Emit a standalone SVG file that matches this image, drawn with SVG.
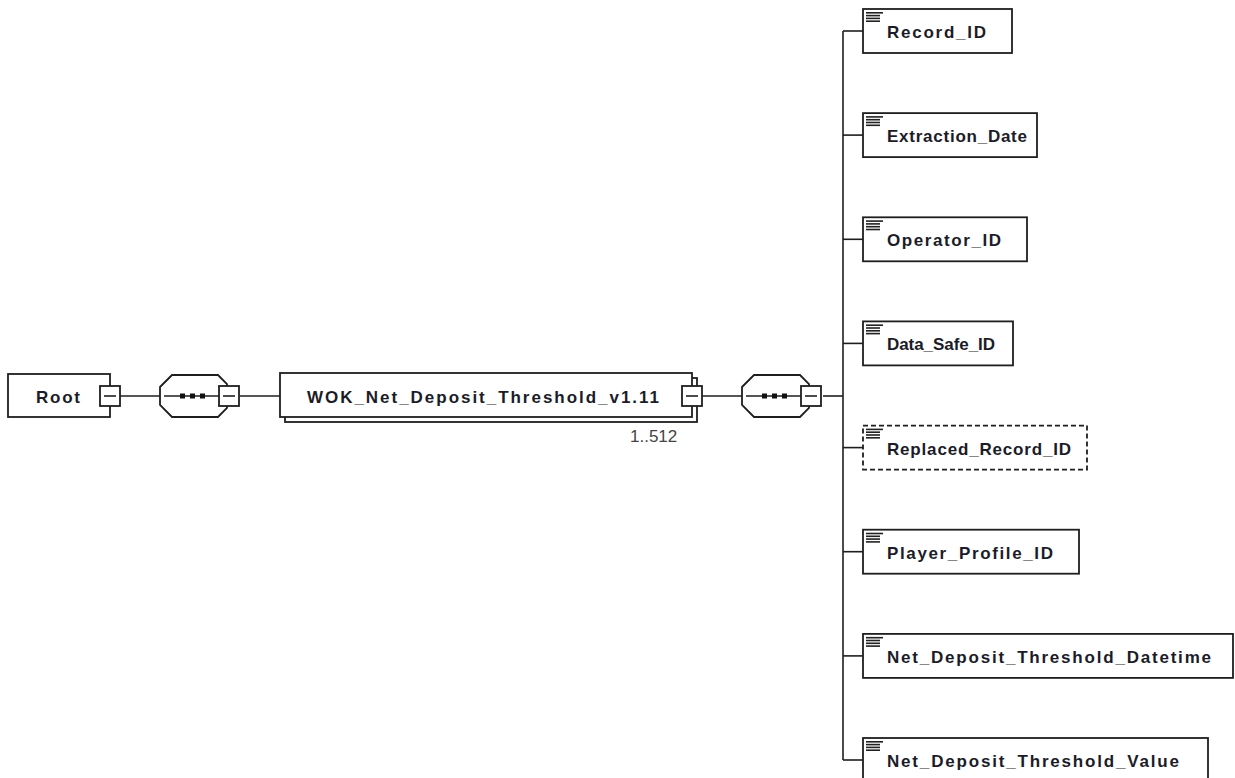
<svg xmlns="http://www.w3.org/2000/svg" width="1235" height="778" viewBox="0 0 1235 778">
  <style>
    .box { fill: #ffffff; stroke: #1e1e1e; stroke-width: 1.8; }
    .opt { fill: #ffffff; stroke: #1e1e1e; stroke-width: 1.8; stroke-dasharray: 5 3; }
    .line { fill: none; stroke: #1e1e1e; stroke-width: 1.6; }
    .lbl { font-family: "Liberation Sans", Arial, sans-serif; font-weight: bold; font-size: 17px; fill: #1c1c28; }
    .occ { font-family: "Liberation Sans", Arial, sans-serif; font-size: 17px; fill: #444444; }
    .dot { fill: #111111; }
    .icon { fill: #222222; }
  </style>
  <defs>
    <!-- expand/collapse toggle, centred on 0,0 -->
    <g id="toggle">
      <rect x="-10" y="-10" width="20" height="20" class="box"/>
      <line x1="-6" y1="0" x2="6" y2="0" class="line"/>
    </g>
    <!-- sequence compositor, left edge at 0, centre line at 0 -->
    <g id="sequence">
      <path d="M0,-9 L12,-21 L58,-21 L67,-12 L67,12 L58,21 L12,21 L0,9 Z" class="box"/>
      <line x1="4" y1="0" x2="60" y2="0" class="line"/>
      <rect x="20" y="-2.5" width="5" height="5" class="dot"/>
      <rect x="30" y="-2.5" width="5" height="5" class="dot"/>
      <rect x="40" y="-2.5" width="5" height="5" class="dot"/>
      <use href="#toggle" x="69" y="0"/>
    </g>
    <!-- simple-content marker in the top-left corner of an element box -->
    <g id="simple">
      <rect x="0" y="0" width="17" height="1.6" class="icon"/>
      <rect x="0" y="2.8" width="14" height="1.6" class="icon"/>
      <rect x="0" y="5.6" width="14" height="1.6" class="icon"/>
      <rect x="0" y="8.4" width="14" height="1.6" class="icon"/>
    </g>
  </defs>

  <rect width="1235" height="778" fill="#ffffff"/>

  <!-- connectors -->
  <g id="connectors">
    <line x1="120" y1="396" x2="160" y2="396" class="line"/>
    <line x1="240" y1="396" x2="280" y2="396" class="line"/>
    <line x1="702" y1="396" x2="742" y2="396" class="line"/>
    <line x1="823" y1="396" x2="843" y2="396" class="line"/>
    <line x1="843" y1="31" x2="843" y2="760" class="line"/>
    <line x1="843" y1="31" x2="863" y2="31" class="line"/>
    <line x1="843" y1="135.1" x2="863" y2="135.1" class="line"/>
    <line x1="843" y1="239.3" x2="863" y2="239.3" class="line"/>
    <line x1="843" y1="343.4" x2="863" y2="343.4" class="line"/>
    <line x1="843" y1="447.6" x2="863" y2="447.6" class="line"/>
    <line x1="843" y1="551.7" x2="863" y2="551.7" class="line"/>
    <line x1="843" y1="655.9" x2="863" y2="655.9" class="line"/>
    <line x1="843" y1="760" x2="863" y2="760" class="line"/>
  </g>

  <!-- root element -->
  <g id="root">
    <rect x="8" y="374" width="102" height="43" class="box"/>
    <text x="36" y="403" class="lbl" textLength="44">Root</text>
    <use href="#toggle" x="110" y="396"/>
  </g>

  <g id="seq-root">
    <use href="#sequence" x="160" y="396"/>
  </g>

  <!-- repeating record element (1..512) -->
  <g id="wok">
    <rect x="285" y="378" width="412" height="44" class="box"/>
    <rect x="280" y="373" width="412" height="44" class="box"/>
    <text x="307" y="403" class="lbl" textLength="352">WOK_Net_Deposit_Threshold_v1.11</text>
    <use href="#toggle" x="692" y="396"/>
    <text x="630" y="442" class="occ">1..512</text>
  </g>

  <g id="seq-record">
    <use href="#sequence" x="742" y="396"/>
  </g>

  <!-- child elements -->
  <g id="record-id">
    <rect x="863" y="9" width="149" height="44" class="box"/>
    <use href="#simple" x="866" y="12"/>
    <text x="887" y="38" class="lbl" textLength="99">Record_ID</text>
  </g>
  <g id="extraction-date">
    <rect x="863" y="113.1" width="174" height="44" class="box"/>
    <use href="#simple" x="866" y="116.1"/>
    <text x="887" y="142.1" class="lbl" textLength="140">Extraction_Date</text>
  </g>
  <g id="operator-id">
    <rect x="863" y="217.3" width="164" height="44" class="box"/>
    <use href="#simple" x="866" y="220.3"/>
    <text x="887" y="246.3" class="lbl" textLength="114">Operator_ID</text>
  </g>
  <g id="data-safe-id">
    <rect x="863" y="321.4" width="150" height="44" class="box"/>
    <use href="#simple" x="866" y="324.4"/>
    <text x="887" y="350.4" class="lbl" textLength="108">Data_Safe_ID</text>
  </g>
  <g id="replaced-record-id">
    <rect x="863" y="425.6" width="224" height="44" class="opt"/>
    <use href="#simple" x="866" y="428.6"/>
    <text x="887" y="454.6" class="lbl" textLength="184">Replaced_Record_ID</text>
  </g>
  <g id="player-profile-id">
    <rect x="863" y="529.7" width="216" height="44" class="box"/>
    <use href="#simple" x="866" y="532.7"/>
    <text x="887" y="558.7" class="lbl" textLength="166">Player_Profile_ID</text>
  </g>
  <g id="net-deposit-threshold-datetime">
    <rect x="863" y="633.9" width="370" height="44" class="box"/>
    <use href="#simple" x="866" y="636.9"/>
    <text x="887" y="662.9" class="lbl" textLength="324">Net_Deposit_Threshold_Datetime</text>
  </g>
  <g id="net-deposit-threshold-value">
    <rect x="863" y="738" width="345" height="44" class="box"/>
    <use href="#simple" x="866" y="741"/>
    <text x="887" y="767" class="lbl" textLength="292">Net_Deposit_Threshold_Value</text>
  </g>
</svg>
